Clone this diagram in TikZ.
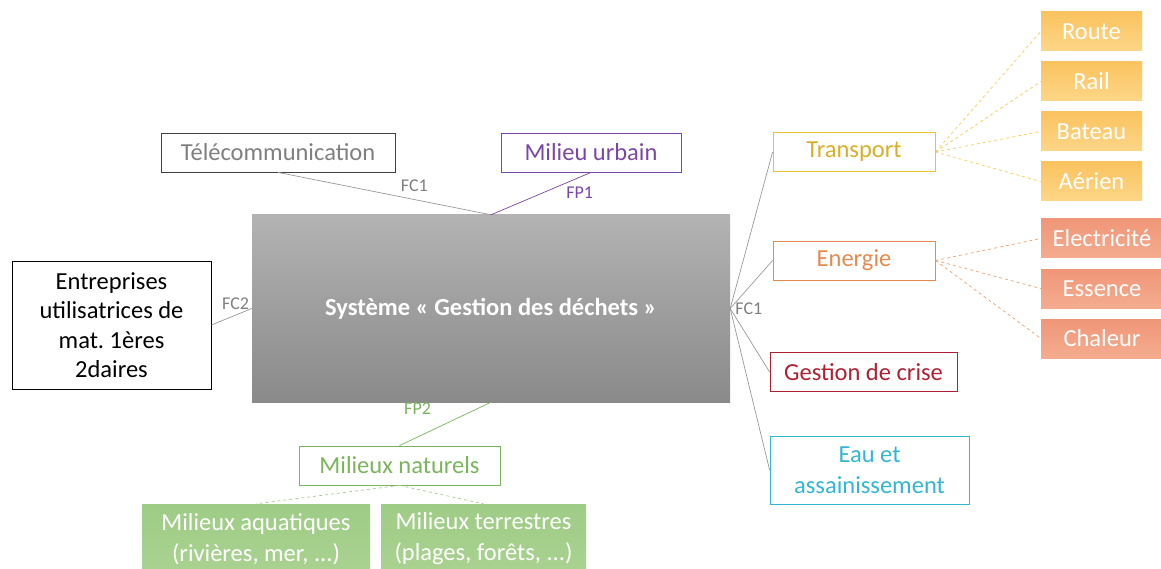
\documentclass[tikz,border=0pt]{standalone}
\usepackage{fontspec}
\setmainfont{Carlito}
\usetikzlibrary{positioning}

\begin{document}
\begin{tikzpicture}[x=1pt, y=-1pt, font=\fontsize{24.5}{29.5}\selectfont,
  box/.style={draw, line width=0.8pt, inner sep=0pt, align=center},
  sub/.style={inner sep=0pt, align=center, text=white, minimum width=101pt, minimum height=39pt},
  link/.style={draw=gray!80, line width=0.7pt},
  dlink/.style={dashed, line width=0.7pt},
  lbl/.style={font=\fontsize{18}{20}\selectfont, inner sep=1pt}]
  \definecolor{tgray}{HTML}{7F7F7F}
  \definecolor{purp}{HTML}{7A46A8}
  \definecolor{yel}{HTML}{F2C12E}
  \definecolor{ora}{HTML}{E58A4E}
  \definecolor{crise}{HTML}{B02030}
  \definecolor{eau}{HTML}{33B5D5}
  \definecolor{grn}{HTML}{7AB55C}
  \useasboundingbox (0,0) rectangle (1161,569);
  % systeme central
  \node[inner sep=0pt, minimum width=478pt, minimum height=187pt, top color=black!30, bottom color=black!46, text=white, font=\fontsize{24.5}{29.5}\selectfont\bfseries] (sys) at (491, 308.5) {Système « Gestion des déchets »};
  % milieux exterieurs
  \node[box, draw=black!75, text=tgray, minimum width=234pt, minimum height=39pt] (tel) at (278, 152.5) {Télécommunication};
  \node[box, draw=purp, text=purp, minimum width=180pt, minimum height=39pt] (urb) at (591, 152.5) {Milieu urbain};
  \node[box, draw=black, minimum width=199pt, minimum height=128pt] (ent) at (111.5, 325) {Entreprises\\utilisatrices de\\mat.\ 1ères\\2daires};
  \node[box, draw=grn, text=grn, minimum width=201pt, minimum height=39pt] (nat) at (399.5, 465.5) {Milieux naturels};
  \node[box, draw=yel, text=yel!90!black, minimum width=162pt, minimum height=39pt] (tr) at (854, 152) {Transport};
  \node[box, draw=ora, text=ora, minimum width=162pt, minimum height=39pt] (en) at (854, 260.5) {Energie};
  \node[box, draw=crise, text=crise, minimum width=187pt, minimum height=39pt] (cr) at (863.5, 372) {Gestion de crise};
  \node[box, draw=eau, text=eau, minimum width=199pt, minimum height=68pt, font=\fontsize{24.5}{31}\selectfont] (eau) at (869.5, 470) {Eau et\\assainissement};
  % sous-milieux
  \node[sub, top color={rgb,255:red,250;green,195;blue,95}, bottom color={rgb,255:red,253;green,214;blue,135}] (route) at (1091.5, 31.5) {Route};
  \node[sub, top color={rgb,255:red,250;green,195;blue,95}, bottom color={rgb,255:red,253;green,214;blue,135}] (rail) at (1091.5, 81.5) {Rail};
  \node[sub, top color={rgb,255:red,250;green,195;blue,95}, bottom color={rgb,255:red,253;green,214;blue,135}] (bat) at (1091.5, 131.5) {Bateau};
  \node[sub, top color={rgb,255:red,250;green,195;blue,95}, bottom color={rgb,255:red,253;green,214;blue,135}] (aer) at (1091.5, 181.5) {Aérien};
  \node[sub, minimum width=122pt, top color={rgb,255:red,240;green,150;blue,120}, bottom color={rgb,255:red,245;green,172;blue,143}] (elec) at (1102, 238.5) {Electricité};
  \node[sub, minimum width=122pt, top color={rgb,255:red,240;green,150;blue,120}, bottom color={rgb,255:red,245;green,172;blue,143}] (ess) at (1102, 288.5) {Essence};
  \node[sub, minimum width=122pt, top color={rgb,255:red,240;green,150;blue,120}, bottom color={rgb,255:red,245;green,172;blue,143}] (cha) at (1102, 338.5) {Chaleur};
  \node[sub, minimum width=228pt, minimum height=70pt, font=\fontsize{24.5}{31}\selectfont, top color={rgb,255:red,158;green,204;blue,133}, bottom color={rgb,255:red,170;green,210;blue,145}] (aqua) at (256, 539) {Milieux aquatiques\\(rivières, mer, ...)};
  \node[sub, minimum width=205pt, minimum height=70pt, font=\fontsize{24.5}{31}\selectfont, top color={rgb,255:red,158;green,204;blue,133}, bottom color={rgb,255:red,170;green,210;blue,145}] (terr) at (483.5, 539) {Milieux terrestres\\(plages, forêts, ...)};
  % liaisons
  \draw[link] (tel.south) -- node[lbl, text=tgray, pos=0.64, above=7pt] {FC1} (sys.north);
  \draw[link, draw=purp] (urb.south) -- node[lbl, text=purp, pos=0.22, below right=4pt and -4pt] {FP1} (sys.north);
  \draw[link] (ent.east) -- node[lbl, text=tgray, pos=0.6, above=4pt] {FC2} (sys.west);
  \draw[link, draw=grn] (nat.north) -- node[lbl, text=grn, pos=0.85, left=45pt] {FP2} (sys.south);
  \node[lbl, text=tgray, right=4pt of sys.east] (fcr) {FC1};
  \draw[link] (sys.east) -- (tr.west);
  \draw[link] (sys.east) -- (en.west);
  \draw[link] (sys.east) -- (cr.west);
  \draw[link] (sys.east) -- (eau.west);
  \foreach \n in {route, rail, bat, aer}
    \draw[dlink, draw=yel!80] (tr.east) -- (\n.west);
  \foreach \n in {elec, ess, cha}
    \draw[dlink, draw=ora!80] (en.east) -- (\n.west);
  \draw[dlink, draw=grn!70] (nat.south) -- (aqua.north);
  \draw[dlink, draw=grn!70] (nat.south) -- (terr.north);
\end{tikzpicture}
\end{document}
